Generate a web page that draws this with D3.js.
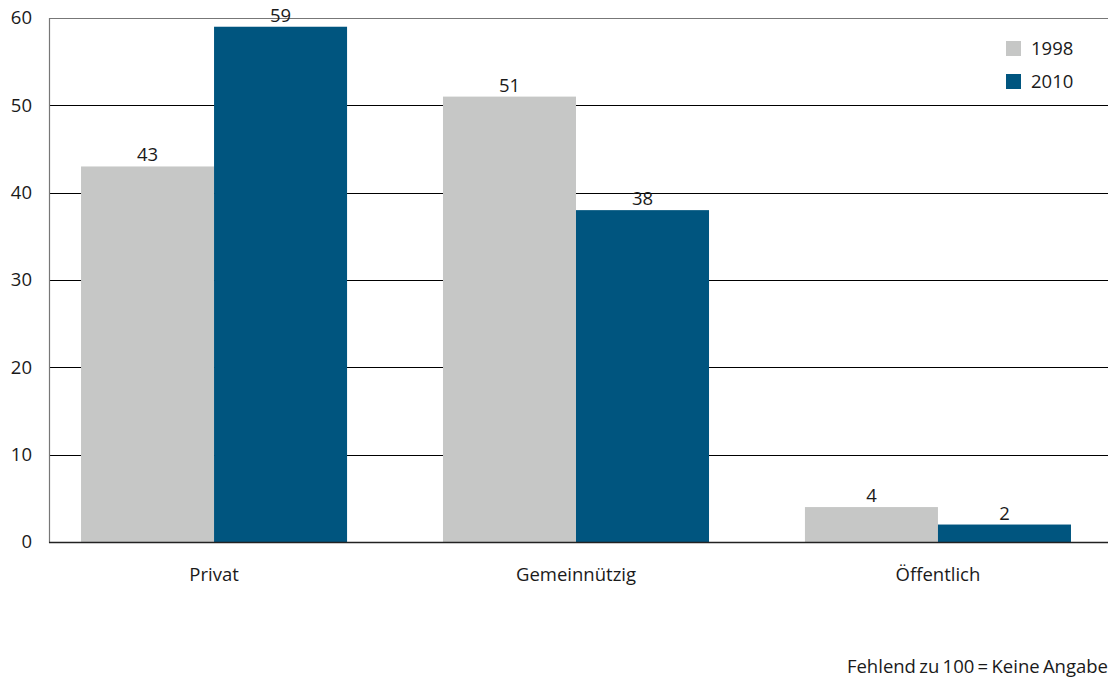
<!DOCTYPE html>
<html><head><meta charset="utf-8">
<script src="https://cdn.jsdelivr.net/npm/d3@7"></script>
<style>
body{margin:0;background:#fff;}
svg{display:block;font-family:"Open Sans","Noto Sans",sans-serif;}
</style></head>
<body>
<svg id="c" width="1111" height="681"></svg>
<script>
const categories = ["Privat", "Gemeinnützig", "Öffentlich"];
const seriesNames = ["1998", "2010"];
const values1998 = [43, 51, 4];
const values2010 = [59, 38, 2];
const yTicks = [0, 10, 20, 30, 40, 50, 60];
const note = "Fehlend zu 100 = Keine Angabe";
const colors = ["#c6c7c6", "#00557f"];

(function(){
const svg = d3.select("#c");
const mLeft = 49, mRight = 1108, mTop = 18, mBottom = 542;
const FS = 18.5;
const FF = "Open Sans, Noto Sans, sans-serif";

const x = d3.scaleBand().domain(categories).range([47, 1105]).paddingInner(0.265).paddingOuter(0.094);
const x1 = d3.scaleBand().domain(seriesNames).range([0, x.bandwidth()]);
const y = d3.scaleLinear().domain([0, 60]).range([mBottom, mTop]);

// gridlines
svg.append("g").selectAll("line").data(yTicks.filter(d => d > 0 && d < 60)).join("line")
  .attr("x1", mLeft).attr("x2", mRight).attr("y1", d => Math.round(y(d)) + 0.5).attr("y2", d => Math.round(y(d)) + 0.5)
  .attr("stroke", "#000").attr("stroke-width", 1);
svg.append("line").attr("x1", mLeft).attr("x2", mRight).attr("y1", y(60) + 0.5).attr("y2", y(60) + 0.5)
  .attr("stroke", "#777").attr("stroke-width", 1);

const data = [values1998, values2010];
const g = svg.append("g");
categories.forEach((c, i) => {
  seriesNames.forEach((s, j) => {
    const v = data[j][i];
    g.append("rect").attr("x", x(c) + x1(s)).attr("y", y(v)).attr("width", x1.bandwidth()).attr("height", y(0) - y(v))
      .attr("fill", colors[j]);
    g.append("text").attr("x", x(c) + x1(s) + x1.bandwidth() / 2).attr("y", y(v) - 5)
      .attr("text-anchor", "middle").attr("font-size", FS).attr("fill", "#1a1a1a").text(v);
  });
});

// axes lines
svg.append("line").attr("x1", mLeft + 0.5).attr("x2", mLeft + 0.5).attr("y1", mTop).attr("y2", mBottom + 1)
  .attr("stroke", "#777").attr("stroke-width", 1.2);
svg.append("line").attr("x1", mLeft).attr("x2", mRight).attr("y1", mBottom + 0.5).attr("y2", mBottom + 0.5)
  .attr("stroke", "#222").attr("stroke-width", 1.3);

// y axis labels
const yAxis = d3.axisLeft(y).tickValues(yTicks).tickSize(0).tickPadding(17);
const ya = svg.append("g").attr("transform", `translate(${mLeft},0)`).call(yAxis);
ya.select(".domain").remove();
ya.selectAll("text").attr("font-size", FS).attr("font-family", FF).attr("fill", "#1a1a1a");

// x axis labels
const xAxis = d3.axisBottom(x).tickSize(0).tickPadding(26);
const xa = svg.append("g").attr("transform", `translate(0,${mBottom})`).call(xAxis);
xa.select(".domain").remove();
xa.selectAll("text").attr("font-size", FS).attr("font-family", FF).attr("fill", "#1a1a1a");

// legend
const lg = svg.append("g");
seriesNames.forEach((s, j) => {
  lg.append("rect").attr("x", 1006).attr("y", 41 + j * 33).attr("width", 15).attr("height", 15).attr("fill", colors[j]);
  lg.append("text").attr("x", 1031).attr("y", 49 + j * 33).attr("dy", "0.35em").attr("font-size", FS).attr("fill", "#1a1a1a").text(s);
});

svg.append("text").attr("x", mRight).attr("y", 673).attr("text-anchor", "end").attr("font-size", FS)
  .attr("word-spacing", -1.5).attr("fill", "#1a1a1a").text(note);
})();
</script>
</body></html>
